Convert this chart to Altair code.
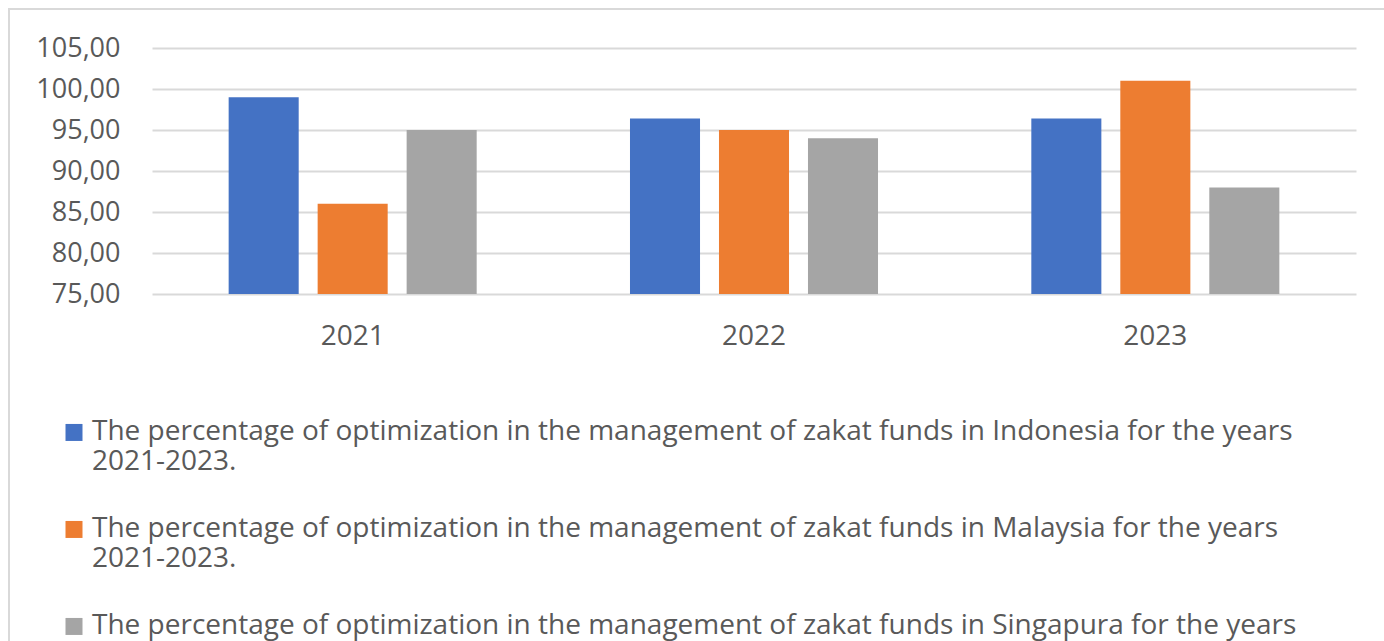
import altair as alt
import pandas as pd

years = ["2021", "2022", "2023"]
series = [
    "The percentage of optimization in the management of zakat funds in Indonesia for the years 2021-2023.",
    "The percentage of optimization in the management of zakat funds in Malaysia for the years 2021-2023.",
    "The percentage of optimization in the management of zakat funds in Singapura for the years 2021-2023.",
]
indonesia = [99.0, 96.4, 96.4]
malaysia = [86.0, 95.0, 101.0]
singapura = [95.0, 94.0, 88.0]
colors = ["#4472C4", "#ED7D31", "#A5A5A5"]
y_ticks = [75, 80, 85, 90, 95, 100, 105]

rows = []
for s, vals in zip(series, [indonesia, malaysia, singapura]):
    for y, v in zip(years, vals):
        rows.append({"year": y, "series": s, "value": v})
df = pd.DataFrame(rows)

FONT = "Open Sans"
TXT = "#595959"

bars = alt.Chart(df).mark_bar().encode(
    x=alt.X("year:N", sort=years,
            scale=alt.Scale(paddingInner=0.382, paddingOuter=0.191),
            axis=alt.Axis(title=None, labelAngle=0, labelFontSize=28, labelColor=TXT,
                          labelFont=FONT, labelPadding=28, ticks=False, domain=False, grid=False)),
    xOffset=alt.XOffset("series:N", sort=series,
                        scale=alt.Scale(paddingInner=0.213, paddingOuter=0)),
    y=alt.Y("value:Q",
            scale=alt.Scale(domain=[75, 105], nice=False, zero=False, clamp=True),
            axis=alt.Axis(title=None, values=y_ticks, labelFontSize=27, labelColor=TXT,
                          labelFont=FONT, labelPadding=32, ticks=False, domain=False,
                          gridColor="#D9D9D9", gridWidth=2,
                          labelExpr="replace(format(datum.value, '.2f'), '.', ',')")),
    color=alt.Color("series:N", sort=series,
                    scale=alt.Scale(domain=series, range=colors),
                    legend=alt.Legend(title=None, orient="none", legendX=-92, legendY=356,
                                      direction="vertical",
                                      symbolType="M-1,0.7L1,0.7L1,2.7L-1,2.7Z",
                                      symbolSize=289, symbolStrokeWidth=0,
                                      labelFontSize=28, labelFont=FONT, labelColor=TXT,
                                      labelLimit=1400, rowPadding=25, labelOffset=4,
                                      labelBaseline="top",
                                      labelExpr="[slice(datum.label, 0, indexof(datum.label, ' 2021-2023')), '2021-2023.']")),
)

border = alt.Chart(alt.Data(values=[{"a": 1}])).mark_rect(
    fill=None, stroke="#D9D9D9", strokeWidth=2
).encode(
    x=alt.value(-143), x2=alt.value(1250), y=alt.value(-39), y2=alt.value(700)
)

chart = alt.layer(border, bars).properties(
    width=1204, height=246,
    autosize=alt.AutoSizeParams(type="none"),
    padding={"left": 152, "top": 48, "right": 28, "bottom": 347},
).configure(
    background="white",
    view=alt.ViewConfig(stroke=None),
)

chart.save("out.html", embed_options={"renderer": "svg", "actions": False})
